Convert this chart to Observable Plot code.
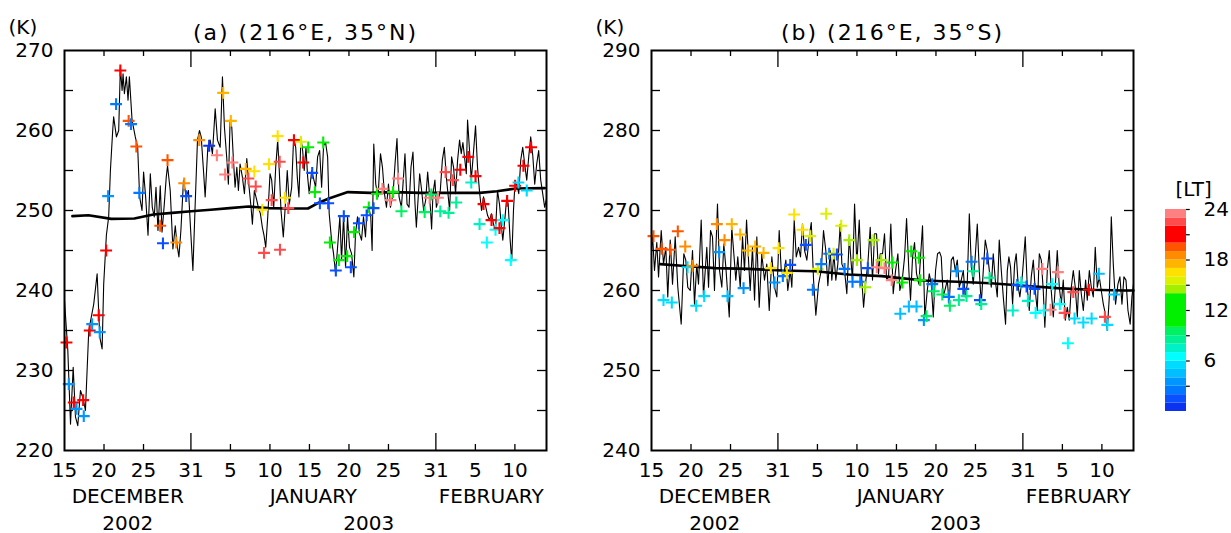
<!DOCTYPE html>
<html>
<head>
<meta charset="utf-8">
<script src="https://cdn.jsdelivr.net/npm/d3@7"></script>
<script src="https://cdn.jsdelivr.net/npm/@observablehq/plot@0.6"></script>
<style>
  html, body { margin: 0; padding: 0; background: #fff; }
  #chart { position: relative; width: 1231px; height: 533px; overflow: hidden; }
  #chart > svg { position: absolute; top: 0; }
</style>
</head>
<body>
<div id="chart"></div>
<script>
// Time axis: days since 15 December 2002, 00 UT.
const xTickDays   = [0, 5, 10, 16, 21, 26, 31, 36, 41, 47, 52, 57];
const xTickLabels = ["15", "20", "25", "31", "5", "10", "15", "20", "25", "31", "5", "10"];
const monthEndDays = [16, 47];
const monthLabels = ["DECEMBER", "JANUARY", "FEBRUARY"];
const monthDays   = [8.0, 31.5, 54.0];
const yearLabels  = ["2002", "2003"];
const yearDays    = [8.0, 38.5];

// Local-time colour bands (hours) and their colours
const ltBreaks = [1, 2, 3, 4, 5, 6, 7, 8, 9, 10, 14, 15, 16, 17, 18, 19, 20, 22, 23];
const ltColors = ["#0a32f0", "#0a50ff", "#0078ff", "#0096ff", "#00beff", "#00dcff", "#00ffff",
                  "#00f0c8", "#00f096", "#00f064", "#00f000", "#a0f000", "#dcf000", "#ffe100",
                  "#ffb400", "#ff8c00", "#ff5500", "#ff0000", "#ff4b4b", "#ff8080"];
const cbTickHours  = [3, 6, 9, 12, 15, 18, 21, 24];
const cbLabelHours = [6, 12, 18, 24];

// (a) 216E, 35N: model temperature [day, K]
const lineA = [[0.00,238.75],[0.42,232.5],[0.76,223.3],[1.10,230.4],[1.39,224.2],[1.68,223.1],[2.02,227.5],[2.36,226.5],[2.65,225.0],[3.07,235.0],[3.70,238.3],[4.13,242.1],[4.46,234.2],[4.76,232.7],[4.96,240.8],[5.30,246.9],[5.59,249.2],[5.81,255.0],[6.10,260.0],[6.22,261.7],[6.57,259.2],[6.86,260.0],[7.07,267.9],[7.29,265.0],[7.41,267.1],[7.58,264.6],[7.83,266.7],[8.04,263.8],[8.21,266.7],[8.55,261.3],[8.96,259.2],[9.26,257.9],[9.51,251.7],[9.81,250.0],[10.01,254.8],[10.27,251.7],[10.57,246.9],[10.86,254.6],[11.11,250.4],[11.36,249.2],[11.58,252.9],[11.83,247.5],[12.12,253.1],[12.34,247.3],[12.63,250.8],[12.88,254.2],[13.04,255.6],[13.38,252.5],[13.72,245.2],[14.02,248.1],[14.23,245.8],[14.48,244.2],[14.73,247.5],[15.06,253.8],[15.40,251.7],[15.69,252.5],[16.00,246.9],[16.25,242.5],[16.54,250.8],[16.83,258.8],[17.08,260.0],[17.30,259.2],[17.59,255.0],[17.80,251.7],[18.14,257.9],[18.43,258.8],[18.72,257.1],[19.07,262.7],[19.36,258.8],[19.70,257.9],[19.99,266.7],[20.24,260.4],[20.54,256.5],[20.74,253.3],[20.96,261.3],[21.17,260.4],[21.38,256.3],[21.59,252.9],[21.81,255.4],[22.01,252.5],[22.22,255.8],[22.51,254.2],[22.77,252.1],[23.07,256.5],[23.36,252.9],[23.61,250.4],[23.78,248.3],[24.03,252.5],[24.33,251.3],[24.53,250.4],[24.79,249.6],[25.04,247.9],[25.25,246.9],[25.47,245.4],[25.72,249.2],[26.01,254.6],[26.22,253.8],[26.48,250.4],[26.73,255.4],[26.98,258.8],[27.18,255.0],[27.40,250.0],[27.69,246.7],[27.99,251.3],[28.19,255.0],[28.45,250.8],[28.75,252.9],[29.00,259.2],[29.26,257.9],[29.46,254.2],[29.67,251.7],[29.92,259.0],[30.14,257.5],[30.34,255.0],[30.56,257.9],[30.77,254.2],[30.97,252.1],[31.28,255.0],[31.57,253.8],[31.78,252.9],[32.03,256.7],[32.29,257.5],[32.54,252.9],[32.79,258.1],[33.04,258.5],[33.30,256.7],[33.50,249.6],[33.80,246.3],[34.05,244.6],[34.31,242.1],[34.56,245.4],[34.85,249.2],[35.06,243.8],[35.32,249.2],[35.57,242.9],[35.82,249.2],[36.07,245.4],[36.33,244.6],[36.62,241.7],[36.83,247.1],[37.08,249.2],[37.34,247.1],[37.59,246.3],[37.84,249.2],[38.09,246.7],[38.26,249.6],[38.51,250.4],[38.76,249.2],[38.93,245.0],[39.14,258.3],[39.39,253.3],[39.68,251.7],[39.99,257.1],[40.24,255.4],[40.49,252.1],[40.75,250.4],[41.00,253.3],[41.25,250.4],[41.58,252.1],[41.83,255.8],[42.08,259.0],[42.34,251.7],[42.64,250.4],[42.84,253.3],[43.09,257.1],[43.35,250.8],[43.60,250.4],[43.85,255.4],[44.10,257.3],[44.36,250.8],[44.53,247.9],[44.79,252.1],[44.95,254.6],[45.20,252.5],[45.45,250.0],[45.71,251.3],[45.96,254.8],[46.12,252.9],[46.30,250.4],[46.46,247.7],[46.63,252.1],[46.88,253.8],[47.06,250.4],[47.31,251.3],[47.56,252.5],[47.82,256.3],[48.07,257.9],[48.32,254.2],[48.57,251.7],[48.74,250.0],[48.99,256.7],[49.24,255.4],[49.49,252.1],[49.75,256.3],[50.00,258.8],[50.21,257.1],[50.42,258.5],[50.67,256.3],[50.85,254.6],[51.01,261.3],[51.26,257.5],[51.48,253.8],[51.68,256.3],[52.02,260.6],[52.27,255.4],[52.53,252.3],[52.78,250.0],[53.03,251.7],[53.28,250.6],[53.54,249.4],[53.79,248.8],[54.04,249.6],[54.29,248.3],[54.55,247.5],[54.80,252.5],[55.05,250.8],[55.30,247.9],[55.47,246.3],[55.72,248.8],[55.97,251.7],[56.15,250.8],[56.40,246.3],[56.60,243.7],[56.82,250.0],[56.98,252.9],[57.24,253.3],[57.49,252.1],[57.74,256.3],[57.99,257.9],[58.24,255.8],[58.50,253.8],[58.75,256.7],[59.00,259.2],[59.26,256.9],[59.51,253.3],[59.76,255.8],[60.01,257.5],[60.27,253.8],[60.52,252.1],[60.77,250.4],[61.00,251.5]];

// (a) running mean [day, K]
const meanA = [[1.0,249.3],[3.03,249.4],[5.93,248.95],[8.84,249.0],[11.24,249.5],[13.64,249.7],[16.04,249.9],[18.5,250.1],[20.9,250.3],[23.3,250.5],[25.76,250.3],[28.16,250.25],[30.81,250.25],[32.02,250.9],[33.46,251.5],[35.86,252.3],[38.76,252.2],[41.67,252.3],[45.08,252.2],[49.87,252.2],[52.53,252.2],[54.73,252.4],[57.15,252.75],[60.78,252.8]];

// (a) satellite observations [day, K, local time (h)]
const obsA = [[0.25,233.5,21],[0.54,228.3,3.5],[1.17,226.0,21],[1.52,225.2,3.5],[2.36,226.3,21],[2.44,224.3,3.5],[3.19,235.0,21],[3.50,235.8,3.5],[4.33,236.9,21],[4.46,234.8,3.5],[5.27,245.0,21],[5.52,251.8,3.5],[6.53,263.3,2.5],[7.07,267.5,21],[8.12,261.2,19.5],[8.42,260.8,2.5],[9.09,258.0,19.5],[9.47,252.2,2.5],[12.12,248.1,19.5],[12.46,245.9,1.5],[13.04,256.3,19.5],[14.14,246.0,18.5],[15.15,253.4,18.5],[15.40,251.8,1.5],[17.05,258.8,18.5],[18.31,258.1,0.5],[19.28,256.9,23.5],[20.08,264.7,17.5],[20.33,254.5,23.5],[21.05,261.2,17.5],[21.25,256.0,23.5],[22.94,255.2,17.5],[23.27,254.0,22.5],[24.03,254.9,16.5],[24.20,253.0,22.5],[25.04,250.1,16.5],[25.25,244.7,22.5],[25.88,255.8,16.5],[26.22,251.3,22.5],[26.98,259.3,16.5],[27.23,256.1,22.5],[27.27,245.1,22.5],[27.90,251.6,16.5],[28.32,250.3,22.5],[29.04,258.8,21],[29.92,258.6,15.5],[30.21,256.0,21],[30.85,257.9,12],[31.35,254.7,1.5],[31.69,252.3,12],[32.32,250.9,1.5],[32.74,258.5,12],[33.37,250.9,1.5],[33.59,246.0,12],[34.34,242.5,1.5],[34.72,243.8,12],[35.35,249.3,1.5],[35.77,244.3,12],[36.24,242.9,1.5],[36.65,247.3,12],[37.25,248.4,1.5],[38.24,249.4,1.5],[38.51,250.4,11],[39.11,250.3,1.5],[39.55,252.1,11],[40.24,252.7,23.5],[41.25,251.3,23.5],[41.58,252.3,10.5],[42.21,254.0,23.5],[42.64,249.9,9.5],[45.58,249.8,9.5],[46.21,251.6,23],[46.43,252.0,9.5],[47.26,251.6,23],[47.56,249.9,8.5],[48.23,254.8,22.5],[48.61,249.7,8.5],[49.15,253.8,22.5],[49.58,251.0,8],[50.09,255.1,21],[51.10,256.7,21],[51.48,253.5,7.5],[52.02,254.3,21],[52.53,248.3,7.5],[53.03,250.8,21],[53.45,246.0,6.5],[54.04,248.8,21],[54.55,247.6,6.5],[55.05,247.8,21],[55.47,248.8,6.5],[56.02,251.2,21],[56.48,243.8,6.5],[57.03,253.1,21],[57.45,253.5,5.5],[58.08,255.6,21],[58.50,252.5,5.5],[59.05,257.9,21]];

// (b) 216E, 35S: model temperature [day, K]
const lineB = [[0.00,265.0],[0.13,266.9],[0.38,262.5],[0.67,266.0],[0.89,261.7],[1.23,267.5],[1.52,263.3],[1.81,265.4],[2.06,259.2],[2.37,266.3],[2.66,260.8],[3.00,266.7],[3.33,260.4],[3.76,255.8],[4.09,264.6],[4.34,263.8],[4.59,260.4],[4.90,260.0],[5.19,265.0],[5.44,258.3],[5.73,263.3],[5.95,260.8],[6.29,268.8],[6.58,259.2],[6.80,262.5],[7.00,265.4],[7.22,260.4],[7.47,267.5],[7.72,266.7],[7.97,260.0],[8.35,270.8],[8.61,262.5],[8.90,260.4],[9.15,265.8],[9.41,262.9],[9.84,256.7],[10.16,267.9],[10.42,264.6],[10.67,261.3],[10.92,264.2],[11.23,260.4],[11.52,266.7],[11.77,262.5],[12.03,268.8],[12.28,263.8],[12.49,260.0],[12.78,265.4],[13.04,258.8],[13.33,266.7],[13.63,257.9],[13.96,264.6],[14.30,261.3],[14.59,263.3],[14.90,257.5],[15.23,264.2],[15.57,260.4],[15.86,259.2],[16.16,267.5],[16.42,262.5],[16.71,261.7],[17.00,263.8],[17.25,260.0],[17.56,262.5],[17.76,260.4],[18.06,268.8],[18.32,264.2],[18.61,265.4],[18.86,264.2],[19.11,268.3],[19.37,265.0],[19.66,263.8],[19.96,266.7],[20.22,268.5],[20.51,261.3],[20.80,256.9],[21.14,260.8],[21.48,262.5],[21.77,267.5],[22.06,265.0],[22.32,260.6],[22.62,265.0],[22.82,261.3],[23.08,264.6],[23.33,261.3],[23.58,263.3],[23.89,268.3],[24.09,263.3],[24.43,262.5],[24.72,259.6],[25.03,266.7],[25.28,263.3],[25.44,261.3],[25.70,270.8],[25.99,263.3],[26.29,268.8],[26.54,262.5],[26.84,257.9],[27.13,261.3],[27.38,263.3],[27.68,267.9],[27.97,261.3],[28.23,267.1],[28.48,267.1],[28.73,262.1],[28.95,264.6],[29.24,264.6],[29.49,267.1],[29.75,261.3],[30.00,261.7],[30.29,268.3],[30.59,259.6],[30.89,262.5],[31.18,264.6],[31.43,260.0],[31.73,261.3],[32.03,264.2],[32.28,269.0],[32.57,262.5],[32.78,258.8],[33.04,264.2],[33.29,266.0],[33.54,262.1],[33.84,260.8],[34.05,264.2],[34.30,268.1],[34.59,256.7],[34.90,260.0],[35.15,262.1],[35.41,260.8],[35.66,256.7],[35.95,262.5],[36.20,264.6],[36.46,264.8],[36.67,264.2],[36.92,259.2],[37.22,260.4],[37.43,261.3],[37.68,258.3],[37.94,263.8],[38.19,264.2],[38.44,262.5],[38.70,263.8],[38.95,260.4],[39.20,261.3],[39.46,262.5],[39.71,259.2],[39.96,260.8],[40.22,269.6],[40.47,263.3],[40.72,260.8],[40.97,264.2],[41.23,268.3],[41.48,262.5],[41.73,258.3],[41.99,262.5],[42.24,266.3],[42.49,265.0],[42.75,262.5],[43.00,260.4],[43.25,264.6],[43.51,261.3],[43.76,259.2],[44.01,266.3],[44.27,262.5],[44.52,259.2],[44.81,255.8],[45.03,262.5],[45.23,264.2],[45.44,262.9],[45.70,258.3],[45.95,263.3],[46.16,264.6],[46.42,260.4],[46.62,259.2],[46.92,261.7],[47.30,266.7],[47.56,260.4],[47.81,257.5],[48.06,261.7],[48.32,263.8],[48.57,260.0],[48.82,257.5],[49.08,264.6],[49.33,263.8],[49.58,260.0],[49.78,255.4],[50.09,262.5],[50.34,265.0],[50.59,260.0],[50.85,256.7],[51.10,260.4],[51.35,265.0],[51.61,260.4],[51.86,258.3],[52.11,261.3],[52.37,256.3],[52.62,257.9],[52.87,256.3],[53.13,260.4],[53.38,262.5],[53.63,260.4],[53.89,256.7],[54.14,262.5],[54.39,259.6],[54.65,257.5],[54.94,261.3],[55.15,258.8],[55.41,262.5],[55.66,260.4],[55.91,259.2],[56.16,265.4],[56.42,260.4],[56.67,261.7],[56.92,260.0],[57.18,258.3],[57.43,257.1],[57.68,255.0],[57.94,259.2],[58.19,269.2],[58.44,263.3],[58.73,258.3],[59.03,260.8],[59.28,261.7],[59.54,258.3],[59.79,261.7],[60.05,261.3],[60.30,257.5],[60.58,255.8],[60.80,259.2],[61.00,260.8]];

// (b) running mean [day, K]
const meanB = [[1.1,263.3],[3.84,263.1],[8.06,262.8],[12.28,262.7],[16.49,262.5],[20.72,262.4],[24.94,262.0],[29.15,261.8],[34.47,261.25],[38.7,261.1],[42.91,260.9],[47.13,260.6],[51.35,260.3],[55.57,260.1],[59.78,260.0],[61.0,260.0]];

// (b) satellite observations [day, K, local time (h)]
const obsB = [[0.25,266.8,19.5],[1.30,265.2,19.5],[1.52,258.8,5.5],[2.37,265.1,19.5],[2.57,258.5,5.5],[3.33,267.4,19.5],[4.27,265.5,18.5],[4.56,262.9,5.5],[5.19,263.1,18.5],[5.66,258.1,5.5],[6.67,259.3,5.5],[8.27,268.3,18.5],[8.57,264.8,3.5],[9.24,266.3,18.5],[9.62,259.3,4.5],[10.16,268.3,17.5],[11.23,267.0,17.5],[11.65,260.3,3.5],[12.19,265.0,17.5],[13.13,265.5,17.5],[14.18,264.7,17.5],[15.10,262.8,16.5],[15.57,261.0,3.5],[16.08,265.3,16.5],[16.62,261.8,2.5],[17.13,262.2,16.5],[17.56,263.2,1.5],[18.06,269.5,16.5],[19.11,267.6,16.5],[19.53,265.7,1.5],[20.09,266.8,15.5],[20.42,260.1,2.5],[21.05,262.7,15.5],[21.48,263.3,2.5],[22.11,269.6,15.5],[22.49,264.6,2.5],[23.04,264.6,15.5],[23.46,264.5,1.5],[24.01,268.1,15.5],[24.43,262.7,2.5],[25.03,266.3,14.5],[25.44,261.1,2.5],[25.99,263.8,14.5],[26.42,261.1,2.5],[27.05,260.4,14.5],[27.38,262.8,1.5],[28.10,266.3,14.5],[28.52,262.9,23.5],[29.08,263.8,14.5],[29.49,262.8,23.5],[30.40,261.3,23.5],[30.51,263.5,12],[31.49,257.1,4.5],[31.75,261.0,12],[32.57,258.0,4.5],[32.87,264.9,11],[33.54,258.0,4.5],[33.84,264.1,10.5],[33.97,261.3,10.5],[34.47,256.3,3.5],[34.81,256.8,9.5],[35.53,260.8,2.5],[35.73,259.9,9.5],[36.80,259.5,9],[37.63,259.2,2.5],[37.76,258.1,9.5],[38.61,262.4,3],[38.90,258.8,8.5],[39.46,260.2,1.5],[39.87,259.3,8.5],[40.51,263.6,2],[40.72,262.4,8.5],[41.56,258.8,1.5],[41.73,258.3,8.5],[42.49,264.0,1.5],[42.78,261.6,8],[45.73,257.5,7.5],[46.29,260.7,1.5],[46.80,261.0,7.5],[47.47,260.5,1.5],[47.63,258.7,7.5],[48.48,260.2,1.5],[48.61,257.2,6.5],[49.46,262.7,23.5],[49.66,257.5,6.5],[50.51,257.6,23.5],[50.72,260.8,6.5],[51.43,262.3,23.5],[51.68,258.3,6.5],[52.28,257.2,22.5],[52.70,253.4,6.5],[53.38,259.8,22.5],[53.54,256.5,5.5],[54.65,256.0,5.5],[55.35,260.1,21],[55.70,256.5,5.5],[56.61,262.1,4.5],[57.38,256.7,22.5],[57.68,255.7,5],[58.54,259.5,4.5]];

const FONT = "DejaVu Sans, sans-serif";
const ltColor = {type: "threshold", domain: ltBreaks, range: ltColors};
const chart = document.getElementById("chart");

function panel({left, title, yDomain, line, mean, obs}) {
  const fw = 482, fh = 400;
  const yLabels = d3.range(yDomain[0], yDomain[1] + 1, 10);
  const yMinor = d3.range(yDomain[0] + 5, yDomain[1], 5);
  const shortTicks = xTickDays.filter(d => d > 0 && !monthEndDays.includes(d));
  const svg = Plot.plot({
    width: 600, height: 533,
    marginLeft: 64, marginRight: 54, marginTop: 50, marginBottom: 83,
    style: {fontFamily: FONT, fontSize: "20px", color: "#000", background: "transparent", overflow: "visible"},
    x: {domain: [0, 61]},
    y: {domain: yDomain},
    color: ltColor,
    marks: [
      // inward ticks on all four sides
      Plot.tickX(shortTicks, {x: d => d, insetTop: fh - 6, stroke: "#000", strokeWidth: 1.3}),
      Plot.tickX(shortTicks, {x: d => d, insetBottom: fh - 6, stroke: "#000", strokeWidth: 1.3}),
      Plot.tickX(monthEndDays, {x: d => d, insetTop: fh - 17, stroke: "#000", strokeWidth: 1.3}),
      Plot.tickX(monthEndDays, {x: d => d, insetBottom: fh - 17, stroke: "#000", strokeWidth: 1.3}),
      Plot.tickY(yMinor, {y: d => d, insetRight: fw - 9, stroke: "#000", strokeWidth: 1.3}),
      Plot.tickY(yMinor, {y: d => d, insetLeft: fw - 9, stroke: "#000", strokeWidth: 1.3}),
      Plot.axisY({ticks: yLabels, tickSize: 0, tickPadding: 11, label: null}),
      Plot.axisX({ticks: xTickDays, tickSize: 0, tickPadding: 12, label: null,
                  tickFormat: d => xTickLabels[xTickDays.indexOf(d)]}),
      Plot.text(monthDays, {x: d => d, text: (d, i) => monthLabels[i], frameAnchor: "bottom", dy: 52}),
      Plot.text(yearDays, {x: d => d, text: (d, i) => yearLabels[i], frameAnchor: "bottom", dy: 79}),
      Plot.text([title], {text: d => d, frameAnchor: "top", dy: -26, fontSize: 22}),
      Plot.text(["(K)"], {text: d => d, frameAnchor: "top-left", dx: -56, dy: -31, textAnchor: "start"}),
      // data
      Plot.line(line, {x: d => d[0], y: d => d[1], stroke: "#000", strokeWidth: 1.1}),
      Plot.line(mean, {x: d => d[0], y: d => d[1], stroke: "#000", strokeWidth: 2.6}),
      Plot.dot(obs, {x: d => d[0], y: d => d[1], stroke: d => d[2], fill: "none",
                     symbol: "plus", r: 3.9, strokeWidth: 2.1}),
      Plot.frame({stroke: "#000", strokeWidth: 2})
    ]
  });
  svg.style.left = left + "px";
  d3.select(svg).selectAll("text")
    .filter(function () { return this.textContent === title; })
    .attr("letter-spacing", "2px");
  chart.appendChild(svg);
}

panel({left: 0, title: "(a) (216°E, 35°N)", yDomain: [220, 270], line: lineA, mean: meanA, obs: obsA});
panel({left: 587, title: "(b) (216°E, 35°S)", yDomain: [240, 290], line: lineB, mean: meanB, obs: obsB});

// Local-time colour bar
const ltEdges = [0, ...ltBreaks, 24];
const ltBands = d3.pairs(ltEdges);
const bar = Plot.plot({
  width: 91, height: 533,
  marginLeft: 25, marginRight: 45, marginTop: 209, marginBottom: 122,
  style: {fontFamily: FONT, fontSize: "20px", color: "#000", background: "transparent", overflow: "visible"},
  x: {domain: [0, 1], axis: null},
  y: {domain: [0, 24]},
  color: ltColor,
  marks: [
    Plot.rect(ltBands, {x1: 0, x2: 1, y1: d => d[0], y2: d => d[1], fill: d => (d[0] + d[1]) / 2}),
    Plot.ruleY(cbTickHours, {y: d => d, x1: 1, x2: 1.18, stroke: "#000", strokeWidth: 1.2}),
    Plot.axisY({anchor: "right", ticks: cbLabelHours, tickSize: 0, tickPadding: 17, label: null}),
    Plot.text(["[LT]"], {text: d => d, frameAnchor: "top-left", dx: 10, dy: -28, textAnchor: "start"})
  ]
});
bar.style.left = "1140px";
chart.appendChild(bar);
</script>
</body>
</html>
